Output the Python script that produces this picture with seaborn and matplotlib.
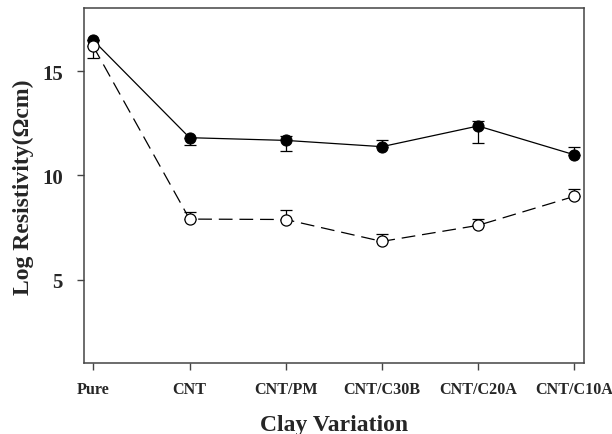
import numpy as np
import pandas as pd
import matplotlib
matplotlib.use("Agg")
import matplotlib.pyplot as plt
import seaborn as sns

# Clay variations (x categories)
categories = ["Pure", "CNT", "CNT/PM", "CNT/C30B", "CNT/C20A", "CNT/C10A"]

# Log resistivity, filled-circle series
filled_values = [16.47, 11.81, 11.68, 11.38, 12.37, 10.99]
filled_err_low = [0.0, 0.37, 0.51, 0.0, 0.80, 0.0]
filled_err_high = [0.0, 0.0, 0.22, 0.30, 0.25, 0.36]

# Log resistivity, open-circle series
open_values = [16.18, 7.91, 7.89, 6.84, 7.61, 9.00]
open_err_low = [0.54, 0.0, 0.0, 0.0, 0.0, 0.0]
open_err_high = [0.0, 0.34, 0.47, 0.37, 0.32, 0.37]

y_ticks = [5, 10, 15]

sns.set_style("ticks")
plt.rcParams["font.family"] = ["Liberation Serif", "DejaVu Serif"]
plt.rcParams["font.weight"] = "bold"

df = pd.DataFrame({
    "Clay": categories * 2,
    "LogR": filled_values + open_values,
    "series": ["filled"] * len(categories) + ["open"] * len(categories),
})

fig = plt.figure(figsize=(6.12, 4.35), dpi=100)
ax = fig.add_axes([0.1368, 0.1625, 0.9542 - 0.1368, 0.9782 - 0.1625])

pos = np.arange(len(categories))

# error bars (drawn beneath the markers)
ax.errorbar(pos, filled_values, yerr=[filled_err_low, filled_err_high],
            fmt="none", ecolor="black", elinewidth=0.9, capsize=4, capthick=0.9, zorder=2)
ax.errorbar(pos, open_values, yerr=[open_err_low, open_err_high],
            fmt="none", ecolor="black", elinewidth=0.9, capsize=4, capthick=0.9, zorder=2)

sns.lineplot(data=df[df.series == "filled"], x="Clay", y="LogR", ax=ax,
             color="black", linewidth=0.9, marker="o", markersize=8,
             markerfacecolor="black", markeredgecolor="black", sort=False, zorder=3)
sns.lineplot(data=df[df.series == "open"], x="Clay", y="LogR", ax=ax,
             color="black", linewidth=0.9, marker="o", markersize=8,
             markerfacecolor="white", markeredgecolor="black", markeredgewidth=0.9,
             sort=False, zorder=4)
ax.lines[-1].set_dashes((11, 5.5))

ax.set_xlim(-0.1, 5.1)
ax.set_ylim(1, 18)
ax.set_yticks(y_ticks)
ax.set_xticks(pos)
ax.set_xticklabels(categories, fontsize=11.6, fontweight="bold")
ax.set_yticklabels([str(t) for t in y_ticks], fontsize=15, fontweight="bold")

ax.tick_params(axis="x", direction="out", length=5, width=1, pad=8, color="#444444")
ax.tick_params(axis="y", direction="out", length=5, width=1, pad=10, color="#444444")

for s in ax.spines.values():
    s.set_visible(True)
    s.set_color("#444444")
    s.set_linewidth(1.1)

ax.set_xlabel("Clay Variation", fontsize=17, fontweight="bold", labelpad=12)
ax.set_ylabel("Log Resistivity(Ωcm)", fontsize=17, fontweight="bold", labelpad=6)

fig.savefig("out.png", dpi=100)
